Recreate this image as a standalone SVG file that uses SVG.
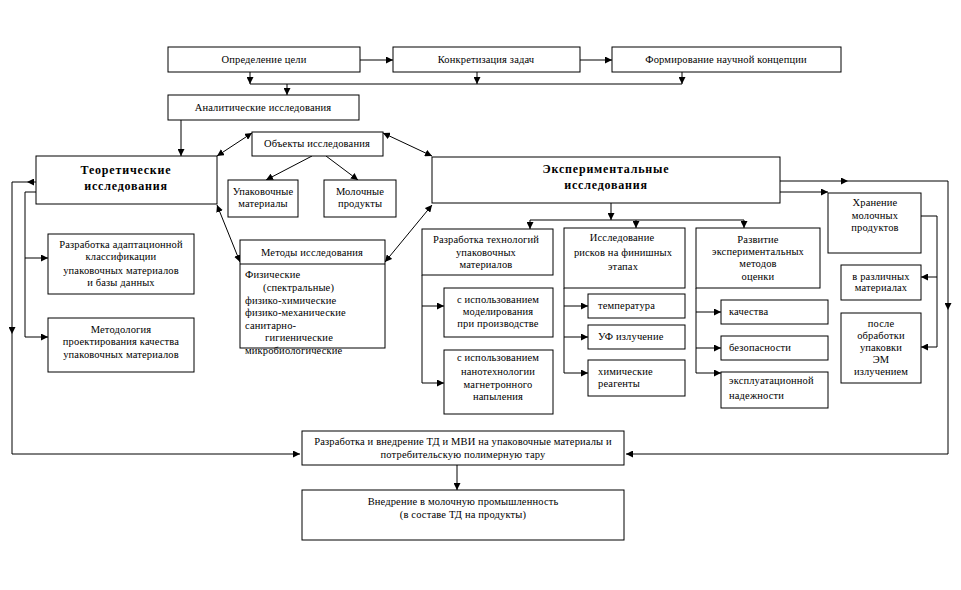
<svg xmlns="http://www.w3.org/2000/svg" width="961" height="590" viewBox="0 0 961 590">
<defs>
<marker id="ah" viewBox="0 0 8 8" refX="8" refY="4" markerWidth="7" markerHeight="7" markerUnits="userSpaceOnUse" orient="auto-start-reverse">
<path d="M0,0 L8,4 L0,8 Z" fill="#000"/>
</marker>
<style>
rect{fill:#fff;stroke:#000;stroke-width:1}
.c path,.c line{fill:none;stroke:#000;stroke-width:1}
text{font-family:"Liberation Serif","Times New Roman",serif;font-size:10.5px;letter-spacing:0.15px;fill:#000}
.m{text-anchor:middle}
.b{font-weight:bold;font-size:12px;letter-spacing:0.8px}
</style>
</defs>
<rect x="0" y="0" width="961" height="590" style="stroke:none"/>

<g class="c" id="connectors">
<path d="M360,60 H393" marker-end="url(#ah)"/>
<path d="M580,60 H612" marker-end="url(#ah)"/>
<path d="M250,72 V84" marker-end="url(#ah)"/>
<path d="M477,72 V84" marker-end="url(#ah)"/>
<path d="M682,72 V84" marker-end="url(#ah)"/>
<path d="M250,84 H682"/>
<path d="M287,84 V95" marker-end="url(#ah)"/>
<path d="M181,120 V156" marker-end="url(#ah)"/>
<path d="M217,156 L252,133" marker-start="url(#ah)" marker-end="url(#ah)"/>
<path d="M383,133 L432,156" marker-start="url(#ah)" marker-end="url(#ah)"/>
<path d="M312,156 L266,180" marker-end="url(#ah)"/>
<path d="M326,156 L358,180" marker-end="url(#ah)"/>
<path d="M217,205 L240,262" marker-start="url(#ah)" marker-end="url(#ah)"/>
<path d="M432,205 L385,262" marker-start="url(#ah)" marker-end="url(#ah)"/>
<path d="M36,182 H27" marker-end="url(#ah)"/>
<path d="M27,182 H12 V334" marker-end="url(#ah)"/>
<path d="M12,334 V454 H300" marker-end="url(#ah)"/>
<path d="M36,192 H25 V337 H48" marker-end="url(#ah)"/>
<path d="M25,258 H48" marker-end="url(#ah)"/>
<path d="M611,203 V220" marker-end="url(#ah)"/>
<path d="M530,220 H744"/>
<path d="M530,220 V229" marker-end="url(#ah)"/>
<path d="M636,220 V228" marker-end="url(#ah)"/>
<path d="M744,220 V228" marker-end="url(#ah)"/>
<path d="M422,275 V383 H444" marker-end="url(#ah)"/>
<path d="M422,306 H444" marker-end="url(#ah)"/>
<path d="M564,288 V373 H588" marker-end="url(#ah)"/>
<path d="M564,306 H588" marker-end="url(#ah)"/>
<path d="M564,337 H588" marker-end="url(#ah)"/>
<path d="M696,288 V373 H721" marker-end="url(#ah)"/>
<path d="M696,312 H721" marker-end="url(#ah)"/>
<path d="M696,348 H721" marker-end="url(#ah)"/>
<path d="M780,192 H828" marker-end="url(#ah)"/>
<path d="M780,181 H848" marker-end="url(#ah)"/>
<path d="M848,181 H948 V310" marker-end="url(#ah)"/>
<path d="M948,310 V454 H626" marker-end="url(#ah)"/>
<path d="M921,216 H937 V347 H921" marker-end="url(#ah)"/>
<path d="M937,277 H921" marker-end="url(#ah)"/>
<path d="M457,465 V490" marker-end="url(#ah)"/>
</g>

<g id="n-goal"><rect x="168" y="47" width="192" height="25"/><text class="m" x="264" y="63">Определение цели</text></g>
<g id="n-tasks"><rect x="393" y="47" width="187" height="25"/><text class="m" x="486" y="63">Конкретизация задач</text></g>
<g id="n-concept"><rect x="612" y="47" width="229" height="25"/><text class="m" x="726" y="63">Формирование научной концепции</text></g>
<g id="n-analytic"><rect x="168" y="95" width="191" height="25"/><text class="m" x="263" y="111">Аналитические исследования</text></g>

<g id="n-theory"><rect x="36" y="156" width="181" height="48"/><text class="m b" x="126" y="174">Теоретические</text><text class="m b" x="126" y="190">исследования</text></g>
<g id="n-objects"><rect x="252" y="132" width="131" height="24"/><text class="m" x="317" y="147">Объекты исследования</text></g>
<g id="n-pack"><rect x="228" y="180" width="70" height="37"/><text class="m" x="263" y="195">Упаковочные</text><text class="m" x="263" y="207">материалы</text></g>
<g id="n-milk"><rect x="324" y="180" width="72" height="37"/><text class="m" x="360" y="195">Молочные</text><text class="m" x="360" y="207">продукты</text></g>

<g id="n-exp"><rect x="432" y="157" width="348" height="46"/><text class="m b" x="606" y="173">Экспериментальные</text><text class="m b" x="606" y="189">исследования</text></g>

<g id="n-adapt"><rect x="48" y="234" width="146" height="60"/><text class="m" x="121" y="248">Разработка адаптационной</text><text class="m" x="121" y="260">классификации</text><text class="m" x="121" y="274">упаковочных материалов</text><text class="m" x="121" y="286">и базы данных</text></g>
<g id="n-method"><rect x="48" y="318" width="146" height="54"/><text class="m" x="121" y="333">Методология</text><text class="m" x="121" y="345">проектирования качества</text><text class="m" x="121" y="358">упаковочных материалов</text></g>

<g id="n-methods"><rect x="240" y="240" width="145" height="108"/><path d="M240,264 H385" style="stroke:#000;fill:none"/><text class="m" x="312" y="256">Методы исследования</text>
<text x="245" y="278">Физические</text><text x="263" y="291">(спектральные)</text><text x="245" y="304">физико-химические</text><text x="245" y="316">физико-механические</text><text x="245" y="329">санитарно-</text><text x="265" y="341">гигиенические</text><text x="245" y="354">микробиологические</text></g>

<g id="n-tech"><rect x="422" y="229" width="131" height="46"/><text class="m" x="486" y="243">Разработка технологий</text><text class="m" x="486" y="256">упаковочных</text><text class="m" x="486" y="268">материалов</text></g>
<g id="n-model"><rect x="444" y="288" width="109" height="49"/><text class="m" x="498" y="303">с использованием</text><text class="m" x="498" y="315">моделирования</text><text class="m" x="498" y="327">при производстве</text></g>
<g id="n-nano"><rect x="444" y="350" width="109" height="64"/><text class="m" x="498" y="361">с использованием</text><text class="m" x="498" y="375">нанотехнологии</text><text class="m" x="498" y="388">магнетронного</text><text class="m" x="498" y="400">напыления</text></g>

<g id="n-risk"><rect x="564" y="228" width="121" height="60"/><text class="m" x="622" y="241">Исследование</text><text class="m" x="623" y="256">рисков на финишных</text><text class="m" x="623" y="270">этапах</text></g>
<g id="n-temp"><rect x="588" y="294" width="97" height="24"/><text x="598" y="309">температура</text></g>
<g id="n-uv"><rect x="588" y="325" width="97" height="24"/><text x="598" y="340">УФ излучение</text></g>
<g id="n-chem"><rect x="588" y="360" width="97" height="36"/><text x="598" y="375">химические</text><text x="598" y="387">реагенты</text></g>

<g id="n-dev"><rect x="696" y="228" width="124" height="60"/><text class="m" x="758" y="243">Развитие</text><text class="m" x="758" y="255">экспериментальных</text><text class="m" x="758" y="267">методов</text><text class="m" x="758" y="280">оценки</text></g>
<g id="n-qual"><rect x="721" y="300" width="107" height="24"/><text x="729" y="315">качества</text></g>
<g id="n-safe"><rect x="721" y="336" width="107" height="24"/><text x="729" y="351">безопасности</text></g>
<g id="n-rel"><rect x="721" y="372" width="107" height="36"/><text x="729" y="384">эксплуатационной</text><text x="729" y="399">надежности</text></g>

<g id="n-store"><rect x="828" y="193" width="93" height="60"/><text class="m" x="875" y="206">Хранение</text><text class="m" x="875" y="219">молочных</text><text class="m" x="875" y="231">продуктов</text></g>
<g id="n-various"><rect x="841" y="265" width="80" height="35"/><text class="m" x="881" y="280">в различных</text><text class="m" x="881" y="291">материалах</text></g>
<g id="n-after"><rect x="841" y="313" width="80" height="70"/><text class="m" x="881" y="327">после</text><text class="m" x="881" y="339">обработки</text><text class="m" x="881" y="351">упаковки</text><text class="m" x="881" y="363">ЭМ</text><text class="m" x="881" y="375">излучением</text></g>

<g id="n-td"><rect x="302" y="431" width="322" height="34"/><text class="m" x="463" y="445">Разработка и внедрение ТД и МВИ на упаковочные материалы и</text><text class="m" x="463" y="458">потребительскую полимерную тару</text></g>
<g id="n-impl"><rect x="302" y="490" width="322" height="50"/><text class="m" x="463" y="505">Внедрение в молочную промышленность</text><text class="m" x="463" y="518">(в составе ТД на продукты)</text></g>
</svg>
